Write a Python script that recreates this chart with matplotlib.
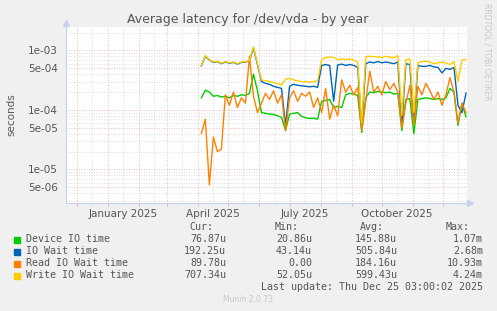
import matplotlib
matplotlib.use('Agg')
import matplotlib.pyplot as plt
import matplotlib.dates as mdates
import pandas as pd

# samples every 4 days from early April 2025 (values in microseconds)
dates = pd.date_range('2025-04-04', periods=67, freq='4D')

device_us = [160, 215, 200, 170, 175, 165, 170, 160, 175, 170, 180, 175, 190, 400, 210,
             90, 88, 85, 84, 80, 75, 45, 85, 88, 90, 78, 74, 72, 73, 70,
             140, 145, 150, 110, 115, 110, 180, 190, 185, 175, 42, 160, 200, 195, 205,
             200, 195, 200, 185, 190, 45, 150, 155, 40, 150, 155, 160, 155, 150, 155,
             150, 160, 230, 200, 55, 130, 77]
iowait_us = [550, 800, 690, 630, 650, 600, 640, 610, 630, 590, 630, 640, 670, 1100, 580,
             300, 280, 270, 250, 240, 230, 55, 250, 270, 260, 255, 250, 245, 250, 240,
             560, 580, 560, 140, 570, 590, 560, 580, 560, 520, 50, 600, 640, 620, 650,
             620, 640, 620, 600, 640, 55, 600, 580, 60, 560, 540, 540, 560, 530, 520,
             420, 500, 480, 520, 120, 90, 192]
read_us = [40, 70, 5.5, 35, 20, 22, 180, 120, 200, 110, 160, 130, 800, 170, 90,
           130, 190, 150, 210, 130, 180, 45, 160, 210, 140, 190, 170, 200, 110, 160,
           90, 230, 70, 120, 80, 320, 200, 260, 180, 240, 45, 140, 450, 200, 250,
           180, 300, 220, 280, 200, 50, 130, 260, 55, 250, 180, 280, 210, 150, 200,
           120, 180, 350, 200, 60, 130, 90]
write_us = [560, 820, 700, 640, 660, 610, 650, 620, 640, 600, 640, 650, 680, 1150, 600,
            320, 310, 300, 290, 275, 265, 330, 340, 320, 310, 300, 300, 295, 300, 310,
            700, 760, 780, 760, 700, 720, 700, 720, 690, 640, 60, 780, 800, 790, 780,
            760, 800, 770, 760, 820, 80, 700, 720, 90, 620, 650, 660, 640, 600, 620,
            640, 620, 580, 650, 300, 690, 707]

labels = ['Device IO time', 'IO Wait time', 'Read IO Wait time', 'Write IO Wait time']
colors = ['#00CC00', '#0066B3', '#FF8000', '#FFCC00']
cur = ['76.87u', '192.25u', '89.78u', '707.34u']
mins = ['20.86u', '43.14u', '0.00', '52.05u']
avgs = ['145.88u', '505.84u', '184.16u', '599.43u']
maxs = ['1.07m', '2.68m', '10.93m', '4.24m']

W, H = 497, 311
fig = plt.figure(figsize=(W / 100, H / 100), dpi=100, facecolor='#F0F0F0')
ax = fig.add_axes([66 / W, 1 - 203 / H, 401 / W, 176 / H])
ax.set_facecolor('white')

for series, c in zip([device_us, iowait_us, read_us, write_us], colors):
    ax.plot(dates, [v * 1e-6 for v in series], color=c, lw=1.0, zorder=3)

ax.set_yscale('log')
ax.set_ylim(2.73e-6, 2.48e-3)
ax.set_xlim(pd.Timestamp('2024-11-20'), pd.Timestamp('2025-12-25'))

# grid: red on 1 and 5 multiples, grey elsewhere
for dec in [1e-6, 1e-5, 1e-4, 1e-3]:
    for m in range(1, 10):
        v = m * dec
        red = m in (1, 5)
        ax.axhline(v, color='#E8A8A8' if red else '#D4D4D4', lw=0.6,
                   ls=(0, (1, 2)), zorder=1)
months = pd.date_range('2024-12-01', '2025-12-01', freq='MS')
for d in months:
    ax.axvline(d, color='#E8A8A8', lw=0.6, ls=(0, (1, 2)), zorder=1)
    ax.axvline(d + pd.Timedelta(days=15), color='#D4D4D4', lw=0.6, ls=(0, (1, 2)), zorder=1)
ax.axvline(pd.Timestamp('2024-11-20'), color='#D4D4D4', lw=0.6, ls=(0, (1, 2)), zorder=1)

yt = [5e-6, 1e-5, 5e-5, 1e-4, 5e-4, 1e-3]
ax.set_yticks(yt)
ax.set_yticklabels(['5e-06', '1e-05', '5e-05', '1e-04', '5e-04', '1e-03'])
ax.yaxis.set_minor_locator(matplotlib.ticker.NullLocator())
ax.tick_params(axis='y', length=0, pad=6, labelsize=7.5, labelcolor='#555555')

ax.set_xticks(months, minor=True)
label_days = [pd.Timestamp(s) for s in ['2025-01-16', '2025-04-16', '2025-07-16', '2025-10-16']]
ax.set_xticks(label_days)
ax.set_xticklabels(['January 2025', 'April 2025', 'July 2025', 'October 2025'])
ax.tick_params(axis='x', which='major', length=0, pad=4, labelsize=7.5, labelcolor='#555555')
ax.tick_params(axis='x', which='minor', length=2, color='#E8A8A8', width=0.6)

for s in ['top', 'right']:
    ax.spines[s].set_visible(False)
for s in ['left', 'bottom']:
    ax.spines[s].set_color('#C8D0F0')
    ax.spines[s].set_linewidth(0.8)
ax.plot([0], [1.025], marker='^', color='#C8D0F0', ms=4, transform=ax.transAxes, clip_on=False)
ax.plot([1.008], [0], marker='>', color='#C8D0F0', ms=4, transform=ax.transAxes, clip_on=False)

ax.set_ylabel('seconds', fontsize=7.5, color='#555555', labelpad=8)

fig.text(248 / W, 1 - 19 / H, 'Average latency for /dev/vda - by year', ha='center',
         va='center', fontsize=9, color='#555555')
fig.text(487 / W, 1 - 52 / H, 'RRDTOOL / TOBI OETIKER', rotation=270, ha='center',
         va='center', fontsize=5.5, color='#C8C8C8')


def ft(x, y, s, **kw):
    fig.text(x / W, 1 - y / H, s, va='center', family='DejaVu Sans Mono',
             fontsize=7.2, color='#555555', **kw)


ft(213, 227, 'Cur:', ha='right')
ft(299, 227, 'Min:', ha='right')
ft(384, 227, 'Avg:', ha='right')
ft(470, 227, 'Max:', ha='right')
for i, lab in enumerate(labels):
    y = 239.5 + i * 12
    fig.patches.append(plt.Rectangle((14 / W, 1 - (y + 3) / H), 6 / W, 6 / H,
                                     color=colors[i], transform=fig.transFigure))
    ft(26, y, lab, ha='left')
    ft(226, y, cur[i], ha='right')
    ft(312, y, mins[i], ha='right')
    ft(397, y, avgs[i], ha='right')
    ft(483, y, maxs[i], ha='right')
ft(483, 287, 'Last update: Thu Dec 25 03:00:02 2025', ha='right')
fig.text(248 / W, 1 - 300 / H, 'Munin 2.0.73', ha='center', va='center',
         fontsize=5.5, color='#C8C8C8')

fig.savefig('out.png', dpi=100, facecolor=fig.get_facecolor())
